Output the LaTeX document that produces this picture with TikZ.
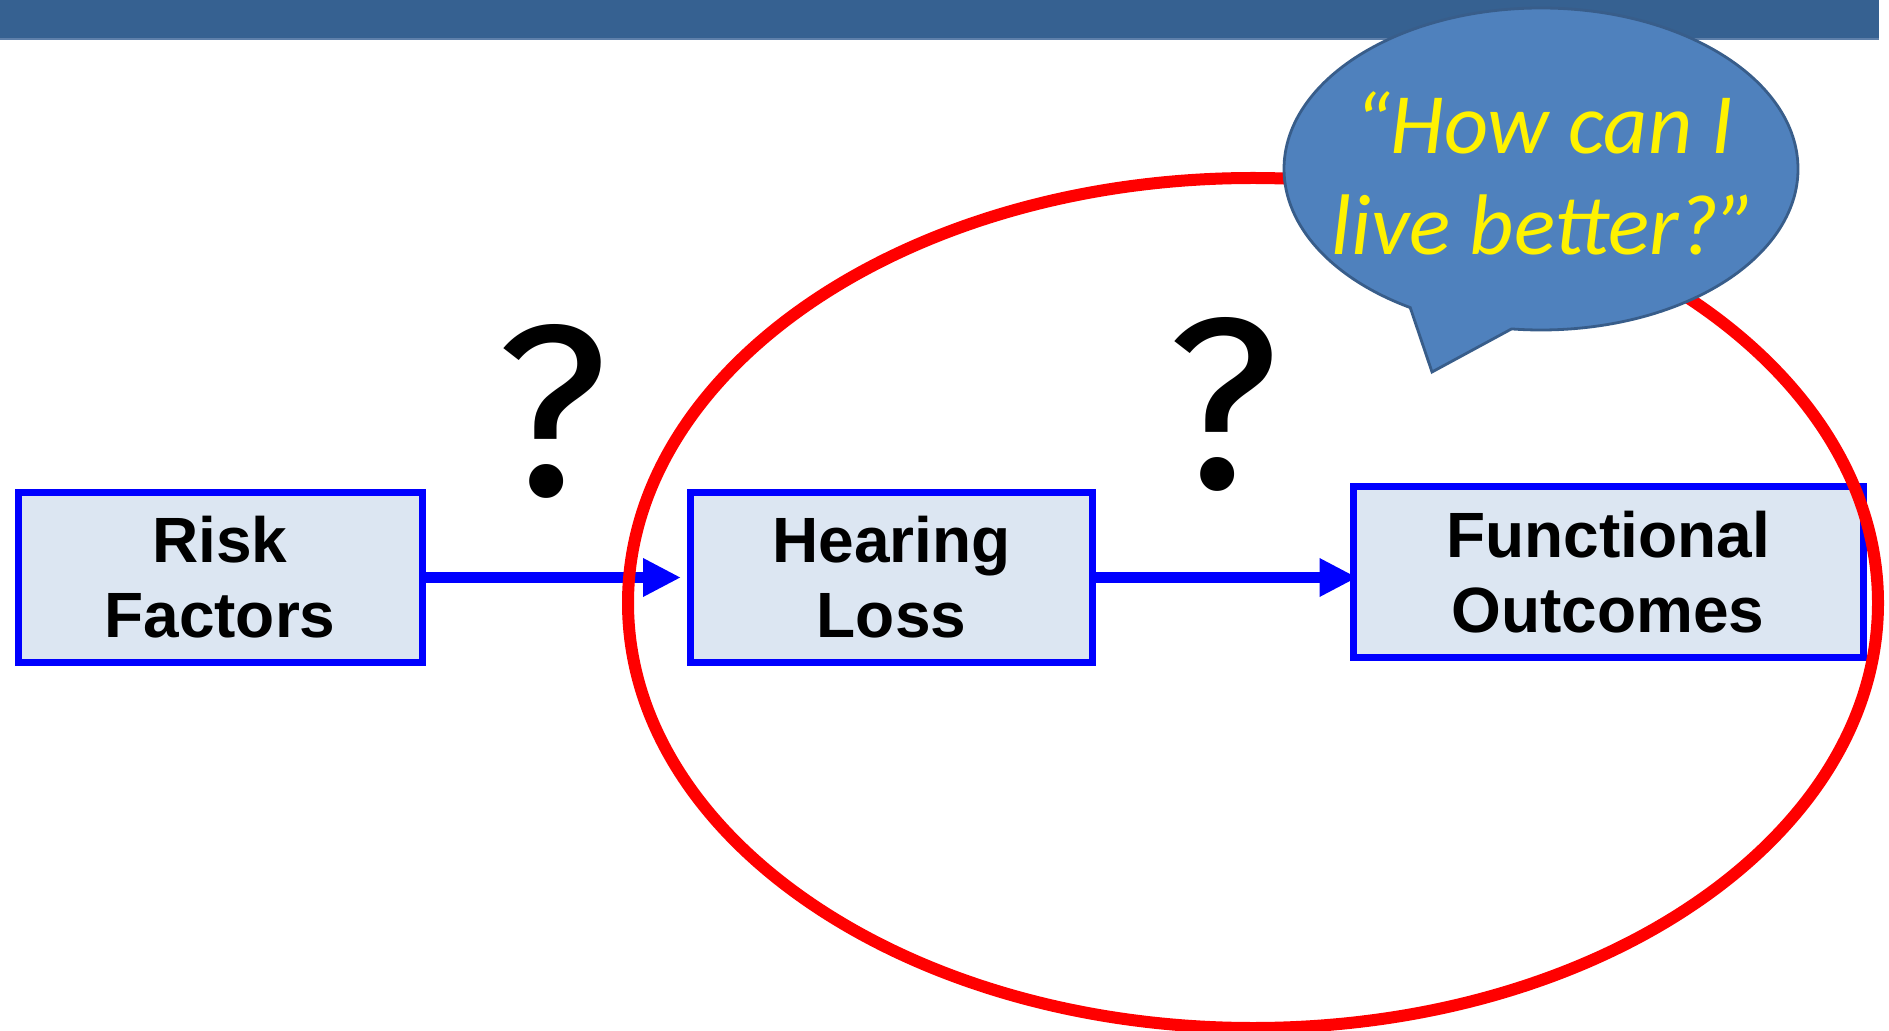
\documentclass[tikz,border=0pt]{standalone}
\usepackage{fontspec}
\setmainfont{Liberation Sans}
\newfontfamily\calib{Carlito}
\newfontfamily\qfont{Fira Sans}
\usetikzlibrary{arrows.meta,shapes.callouts}
\definecolor{barblue}{RGB}{54,97,145}
\definecolor{barline}{RGB}{95,128,170}
\definecolor{boxfill}{RGB}{220,230,242}
\definecolor{bubblefill}{RGB}{79,129,189}
\definecolor{bubbleline}{RGB}{56,93,138}
\definecolor{linkblue}{RGB}{0,0,255}
\definecolor{ringred}{RGB}{255,0,0}
\tikzset{
  factorbox/.style={draw=linkblue, line width=3.5pt, fill=boxfill, inner sep=0pt,
    minimum height=85pt, align=center,
    font=\bfseries\fontsize{32}{37.5}\selectfont},
  link/.style={draw=linkblue, line width=5.5pt,
    -{Triangle[length=19pt,width=18pt]}},
  qmark/.style={inner sep=0pt, font=\qfont\fontsize{122}{122}\selectfont},
  bubble/.style={ellipse callout, draw=bubbleline, line width=1.4pt, fill=bubblefill,
    inner sep=0pt, minimum width=257pt, minimum height=161pt},
  bubbletext/.style={inner sep=0pt, align=center, text=yellow,
    font=\calib\itshape\fontsize{43}{50.6}\selectfont}
}
\begin{document}
\begin{tikzpicture}[x=0.5pt,y=-0.5pt]
\useasboundingbox (0,0) rectangle (1889,1031);
% top bar
\fill[barblue] (0,0) rectangle (1879,39);
\draw[barline, line width=0.8pt] (0,39) -- (1879,39);
% boxes
\node[factorbox, minimum width=202pt] (rf) at (220,577.5) {Risk\\Factors};
\node[factorbox, minimum width=201pt] (hl) at (891.5,577.5) {Hearing\\Loss};
\node[factorbox, minimum width=255pt] (fo) at (1608,572) {Functional\\Outcomes};
% connectors
\draw[link, shorten >=3pt] (rf.east) -- (rf.east -| hl.west);
\draw[link, shorten >=-4pt] (hl.east) -- (hl.east -| fo.west);
% question marks
\node[qmark] (q1) at (552,411) {?};
\node[qmark] (q2) at (1223,404) {?};
% red ellipse
\draw[ringred, line width=6pt] (1253,603) ellipse [x radius=625, y radius=425];
% speech bubble
\node[bubble, callout absolute pointer={(1432,372)}, callout pointer arc=24] (bub) at (1541,169) {};
\node[bubbletext] (bubtxt) at (1544,173) {“How can I\\live better?”};
\end{tikzpicture}
\end{document}
